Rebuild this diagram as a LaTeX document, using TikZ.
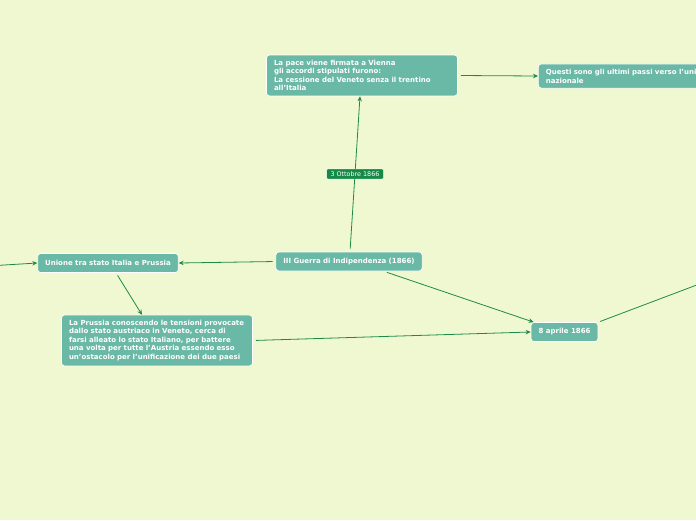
\documentclass[tikz,border=0pt]{standalone}
\usepackage{fontspec}
\setmainfont{DejaVu Sans}
\usepackage{tikz}
\usetikzlibrary{arrows.meta}
\definecolor{bgcol}{HTML}{F0F8D2}
\definecolor{boxcol}{HTML}{6AB8A6}
\definecolor{linecol}{HTML}{1E8A48}
\definecolor{tagcol}{HTML}{148A46}
\begin{document}
\begin{tikzpicture}[x=1pt, y=-1pt,
  box/.style={draw=white, line width=0.7pt, fill=boxcol, rounded corners=3pt, text=white,
    font=\bfseries\fontsize{7}{8.5}\selectfont, align=left, inner xsep=7.5pt, inner ysep=5pt},
  widebox/.style={box, text width=176pt},
  smallbox/.style={box, minimum height=19pt, inner ysep=2pt},
  datetag/.style={fill=tagcol, draw=white, line width=0.4pt, rounded corners=1pt, text=white,
    font=\fontsize{6.4}{7}\selectfont, inner xsep=4pt, inner ysep=2.5pt},
  link/.style={draw=linecol, line width=0.8pt, -{Stealth[length=5pt,width=4.5pt]}, shorten <=3pt}]
\useasboundingbox (0,0) rectangle (696,520);
\fill[bgcol] (0,0) rectangle (696,520);
\clip (0,0) rectangle (696,520);
\node[widebox] (pace) at (362,75.5) {La pace viene firmata a Vienna\\gli accordi stipulati furono:\\La cessione del Veneto senza il trentino\\all'Italia};
\node[widebox, anchor=west] (questi) at (538,76) {Questi sono gli ultimi passi verso l'unità\\nazionale};
\node[smallbox] (guerra) at (349,261.5) {III Guerra di Indipendenza (1866)};
\node[smallbox] (unione) at (108,263) {Unione tra stato Italia e Prussia};
\node[widebox] (prussia) at (157,340.5) {La Prussia conoscendo le tensioni provocate\\dallo stato austriaco in Veneto, cerca di\\farsi alleato lo stato Italiano, per battere\\una volta per tutte l'Austria essendo esso\\un'ostacolo per l'unificazione dei due paesi};
\node[smallbox] (aprile) at (564.5,332) {8 aprile 1866};
\coordinate (fuori) at (-4,265.5);
\coordinate (oltre) at (702,283);
\draw[link] ([xshift=1pt]guerra.north) -- node[datetag] (ottobre) {3 Ottobre 1866} ([xshift=-2pt]pace.south);
\draw[link] (pace.east) -- (questi.west);
\draw[link] (guerra.west) -- (unione.east);
\draw[link] (fuori) -- (unione.west);
\draw[link] ([xshift=8pt]unione.south) -- ([xshift=-15pt]prussia.north);
\draw[link] (prussia.east) -- (aprile.west);
\draw[link] ([xshift=35pt]guerra.south) -- ([xshift=3pt]aprile.north west);
\draw[draw=linecol, line width=0.8pt, shorten <=2pt] (aprile.north east) -- (oltre);
\end{tikzpicture}
\end{document}
